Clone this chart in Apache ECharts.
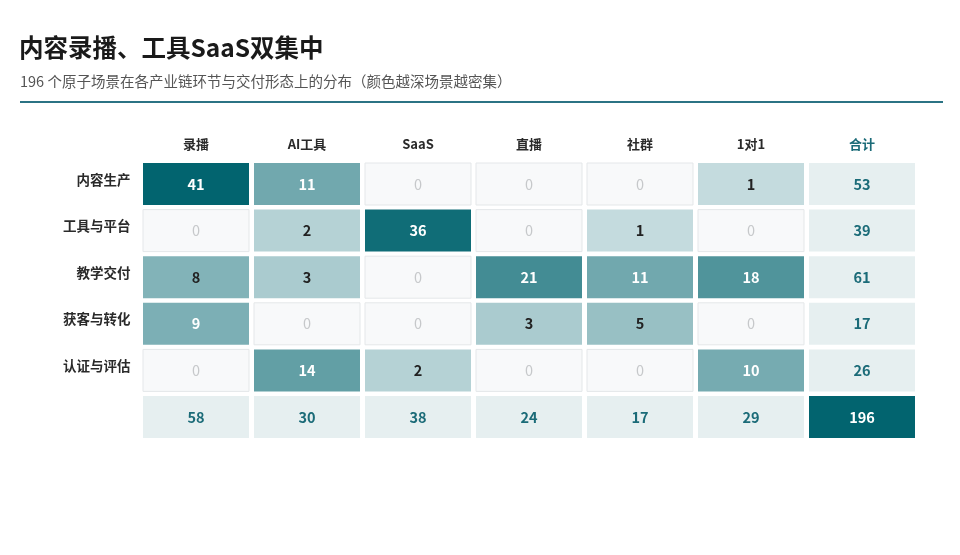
<!DOCTYPE html>
<html>
<head>
<meta charset="utf-8">
<script src="https://cdn.jsdelivr.net/npm/echarts@6/dist/echarts.min.js"></script>
<style>
html,body{margin:0;padding:0;background:#fff;}
#chart{width:960px;height:555px;}
</style>
</head>
<body>
<div id="chart"></div>
<script>
// ---- data ----
const columns = ['录播', 'AI工具', 'SaaS', '直播', '社群', '1对1'];
const totalLabel = '合计';
const rows = ['内容生产', '工具与平台', '教学交付', '获客与转化', '认证与评估'];
const row_内容生产 = [41, 11, 0, 0, 0, 1];
const row_工具与平台 = [0, 2, 36, 0, 1, 0];
const row_教学交付 = [8, 3, 0, 21, 11, 18];
const row_获客与转化 = [9, 0, 0, 3, 5, 0];
const row_认证与评估 = [0, 14, 2, 0, 0, 10];
const rowTotals = [53, 39, 61, 17, 26];
const colTotals = [58, 30, 38, 24, 17, 29];
const grandTotal = 196;

const matrix = [row_内容生产, row_工具与平台, row_教学交付, row_获客与转化, row_认证与评估];

const FONT = '"Noto Sans CJK SC", "Noto Sans", sans-serif';
const DARK = [2, 100, 111];
const LIGHT = [232, 241, 242];
const maxVal = Math.max(...matrix.flat());

function cellColor(v) {
  const t = Math.sqrt(v / maxVal);
  const c = LIGHT.map((l, i) => Math.round(l + (DARK[i] - l) * t));
  return 'rgb(' + c.join(',') + ')';
}

// build data items: [col, row, value, kind]  kind: 0 cell, 1 total, 2 grand
const items = [];
matrix.forEach((r, ri) => {
  r.forEach((v, ci) => items.push([ci, ri, v, 0]));
  items.push([columns.length, ri, rowTotals[ri], 1]);
});
colTotals.forEach((v, ci) => items.push([ci, rows.length, v, 1]));
items.push([columns.length, rows.length, grandTotal, 2]);

const chart = echarts.init(document.getElementById('chart'));
chart.setOption({
  backgroundColor: '#fff',
  animation: false,
  title: [
    {
      text: '内容录播、工具SaaS双集中',
      left: 19, top: 35, padding: 0,
      textStyle: { fontFamily: FONT, fontSize: 24.5, fontWeight: 'bold', color: '#1a1a1a' }
    },
    {
      text: '196 个原子场景在各产业链环节与交付形态上的分布（颜色越深场景越密集）',
      left: 20, top: 74, padding: 0,
      textStyle: { fontFamily: FONT, fontSize: 14.5, fontWeight: 'normal', color: '#555' }
    }
  ],
  graphic: [
    { type: 'rect', shape: { x: 20, y: 101, width: 923, height: 2 }, style: { fill: '#2b7384' } }
  ],
  grid: { left: 140.5, top: 160.7, width: 777, height: 279.6, containLabel: false },
  xAxis: {
    type: 'category',
    position: 'top',
    data: columns.concat([totalLabel]),
    axisLine: { show: false },
    axisTick: { show: false },
    splitLine: { show: false },
    axisLabel: {
      margin: 10,
      fontFamily: FONT,
      fontSize: 13,
      fontWeight: 'bold',
      color: function (val) { return val === totalLabel ? '#1b6b78' : '#2a2a2a'; }
    }
  },
  yAxis: {
    type: 'category',
    inverse: true,
    data: rows.concat(['']),
    axisLine: { show: false },
    axisTick: { show: false },
    splitLine: { show: false },
    axisLabel: {
      margin: 10,
      formatter: function (val) { return val ? '{a|' + val + '}' : ''; },
      rich: {
        a: {
          fontFamily: FONT,
          fontSize: 13.5,
          fontWeight: 'bold',
          color: '#2a2a2a',
          padding: [0, 0, 9, 0]
        }
      }
    }
  },
  series: [{
    type: 'custom',
    data: items,
    encode: { x: 0, y: 1 },
    renderItem: function (params, api) {
      const c = api.coord([api.value(0), api.value(1)]);
      const s = api.size([1, 1]);
      const w = s[0] - 5, h = s[1] - 4.6;
      const v = api.value(2), kind = api.value(3);
      let fill, stroke = null, textFill, weight = 'bold';
      if (kind === 2) { fill = 'rgb(' + DARK.join(',') + ')'; textFill = '#ffffff'; }
      else if (kind === 1) { fill = '#e6eff0'; textFill = '#1b6b78'; }
      else if (v === 0) { fill = '#f8f9fa'; stroke = '#e4e7e9'; textFill = '#c6c8ca'; weight = 'normal'; }
      else {
        fill = cellColor(v);
        textFill = Math.sqrt(v / maxVal) > 0.455 ? '#ffffff' : '#222222';
      }
      return {
        type: 'rect',
        shape: { x: c[0] - w / 2, y: c[1] - h / 2, width: w, height: h },
        style: { fill: fill, stroke: stroke, lineWidth: stroke ? 1 : 0 },
        textContent: {
          style: { text: String(v), fill: textFill, fontFamily: FONT, fontSize: 14.5, fontWeight: weight }
        },
        textConfig: { position: 'inside' }
      };
    }
  }]
});
</script>
</body>
</html>
